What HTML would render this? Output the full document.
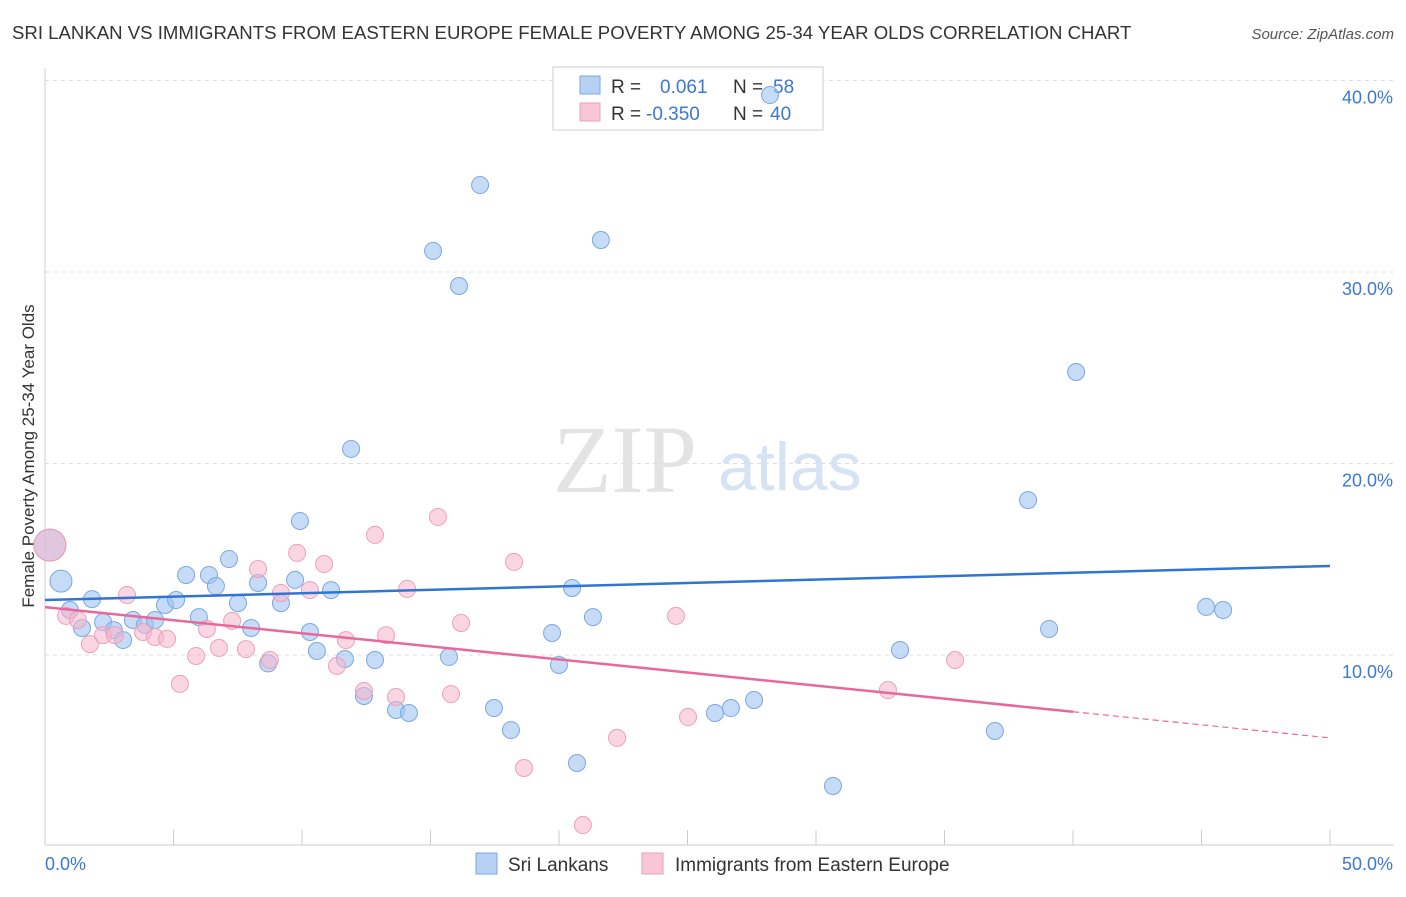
<!DOCTYPE html>
<html><head><meta charset="utf-8"><style>
body{margin:0;background:#fff;font-family:"Liberation Sans",sans-serif}
</style></head><body>
<svg width="1406" height="892" xmlns="http://www.w3.org/2000/svg" font-family="Liberation Sans, sans-serif">
<text x="12" y="39" font-size="18.6" fill="#333">SRI LANKAN VS IMMIGRANTS FROM EASTERN EUROPE FEMALE POVERTY AMONG 25-34 YEAR OLDS CORRELATION CHART</text>
<text x="1394" y="39" font-size="15" fill="#555" font-style="italic" text-anchor="end">Source: ZipAtlas.com</text>
<g>
<text x="553" y="492" font-size="96" font-family="Liberation Serif, serif" fill="#e3e3e3">ZIP</text>
<text x="718" y="490" font-size="68" fill="#d5e3f5">atlas</text>
</g>
<g id="grid"></g>
<g id="axes"></g>
<text transform="translate(34,456) rotate(-90)" font-size="17" fill="#333" text-anchor="middle">Female Poverty Among 25-34 Year Olds</text>
<g>
<rect x="553" y="67" width="270" height="63" fill="#fff" stroke="#ccc"/>
<rect x="580" y="76" width="20" height="18" fill="#b5d0f3" stroke="#7aa7e4"/>
<rect x="580" y="103" width="20" height="18" fill="#f8c7d6" stroke="#ee9fb8"/>
<text x="611" y="93" font-size="19" fill="#333">R =</text>
<text x="660" y="93" font-size="19" fill="#3b78d4">0.061</text>
<text x="733" y="93" font-size="19" fill="#333">N =</text>
<text x="773" y="93" font-size="19" fill="#3b78d4">58</text>
<text x="611" y="120" font-size="19" fill="#333">R =</text>
<text x="646" y="120" font-size="19" fill="#3b78d4">-0.350</text>
<text x="733" y="120" font-size="19" fill="#333">N =</text>
<text x="770" y="120" font-size="19" fill="#3b78d4">40</text>
</g>
<g id="pts"></g>
<g id="lines"></g>
<g>
<rect x="476" y="853" width="21" height="21" fill="#b5d0f3" stroke="#7aa7e4"/>
<text x="508" y="871" font-size="19" fill="#333">Sri Lankans</text>
<rect x="642" y="853" width="21" height="21" fill="#f8c7d6" stroke="#ee9fb8"/>
<text x="675" y="871" font-size="19" fill="#333">Immigrants from Eastern Europe</text>
</g>
</svg>
<script>
const blueX=[0.62,0.97,1.44,1.83,2.26,2.68,3.04,3.42,3.89,4.28,4.67,5.10,5.49,5.99,6.38,6.65,7.16,7.51,8.02,8.29,8.68,9.18,9.73,9.92,10.31,10.58,11.13,11.67,11.91,12.41,12.84,13.66,14.16,15.10,15.72,16.11,16.93,17.47,18.13,19.73,20.00,20.51,20.70,21.32,21.63,26.07,26.69,27.59,28.21,30.66,33.27,36.96,38.25,39.07,40.12,45.18,45.84,0.19];
const blueY=[13.86,12.35,11.41,12.92,11.72,11.30,10.78,11.83,11.57,11.83,12.61,12.87,14.18,11.98,14.18,13.60,15.01,12.71,11.41,13.76,9.56,12.71,13.92,17.00,11.20,10.21,13.39,9.79,20.76,7.86,9.74,7.13,6.97,31.10,9.90,29.27,34.54,7.23,6.08,11.15,9.48,13.50,4.36,11.98,31.67,6.97,7.23,7.65,39.24,3.16,10.26,6.03,18.09,11.36,24.78,12.51,12.35,15.74];
const pinkX=[0.19,0.82,1.28,1.75,2.26,2.72,3.19,3.81,4.28,4.75,5.25,5.88,6.30,6.77,7.28,7.82,8.29,8.75,9.18,9.81,10.31,10.86,11.36,11.71,12.41,12.84,13.27,13.66,14.09,15.29,15.80,16.19,18.25,18.64,20.93,22.26,24.55,25.02,32.80,35.41];
const pinkY=[15.74,12.04,11.83,10.57,11.04,11.04,13.13,11.20,10.94,10.84,8.49,9.95,11.36,10.37,11.78,10.31,14.49,9.74,13.24,15.33,13.39,14.75,9.43,10.78,8.12,16.27,11.04,7.81,13.45,17.21,7.96,11.67,14.86,4.10,1.12,5.67,12.04,6.76,8.17,9.74];
const yTicks=[10,20,30,40];
const xTickLabels=["0.0%","50.0%"];
const blueTrend=[12.87,14.65];
const pinkTrend=[12.5,5.67];
const pinkSolidEnd=40;
const NS="http://www.w3.org/2000/svg";
const sx=v=>45+v*25.7, sy=v=>846.5-v*19.15;
function mk(t,a,p){const e=document.createElementNS(NS,t);for(const k in a)e.setAttribute(k,a[k]);p.appendChild(e);return e;}
const grid=document.getElementById('grid'),axes=document.getElementById('axes');
yTicks.forEach(t=>{
 const l=mk('line',{x1:45,x2:1394,y1:sy(t),y2:sy(t),stroke:'#ddd','stroke-dasharray':'4,4'},grid);
 
 
 const tx=mk('text',{x:1393,y:sy(t)+23,'font-size':18,fill:'#3b78d4','text-anchor':'end'},axes);
 tx.textContent=t.toFixed(1)+'%';
 
 
});
mk('line',{x1:45,x2:1394,y1:845,y2:845,stroke:'#ccc'},axes);
mk('line',{x1:45,x2:45,y1:68,y2:845,stroke:'#ccc'},axes);
for(let i=0;i<=10;i++){const t=mk('line',{x1:sx(i*5),x2:sx(i*5),y1:830,y2:845,stroke:'#ccc'},axes);
 
 }
[[0,'start'],[50,'end']].forEach((d,i)=>{const tx=mk('text',{x:d[0]===0?45:1393,y:870,'font-size':18,fill:'#3b78d4','text-anchor':d[1]},axes);
 tx.textContent=xTickLabels[i];
 
 });
const pts=document.getElementById('pts');
blueX.forEach((x,i)=>{const r=i===blueX.length-1?16:(i===0?11:8.5);
 const c=mk('circle',{cx:sx(x),cy:sy(blueY[i]),r:r,fill:'rgba(160,195,240,0.6)',stroke:'#7aa7e4','stroke-width':1},pts);
 
 });
pinkX.forEach((x,i)=>{const r=i===0?16:8.5;
 const c=mk('circle',{cx:sx(x),cy:sy(pinkY[i]),r:r,fill:'rgba(245,180,202,0.55)',stroke:'#ee9fb8','stroke-width':1},pts);
 
 });
const lines=document.getElementById('lines');
const bl=mk('line',{x1:sx(0),y1:sy(blueTrend[0]),x2:sx(50),y2:sy(blueTrend[1]),stroke:'#2f74d6','stroke-width':2.5},lines);


const py=v=>pinkTrend[0]+(pinkTrend[1]-pinkTrend[0])*v/50;
const pl=mk('line',{x1:sx(0),y1:sy(py(0)),x2:sx(pinkSolidEnd),y2:sy(py(pinkSolidEnd)),stroke:'#e8689a','stroke-width':2.5},lines);


const pd=mk('line',{x1:sx(pinkSolidEnd),y1:sy(py(pinkSolidEnd)),x2:sx(50),y2:sy(py(50)),stroke:'#e8689a','stroke-width':1.2,'stroke-dasharray':'6,4'},lines);


</script>
</body></html>
